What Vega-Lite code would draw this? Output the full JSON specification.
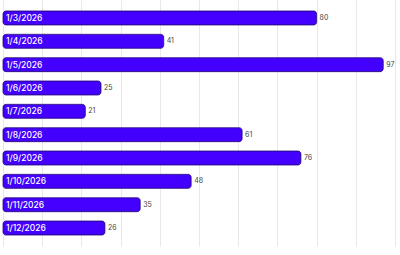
{
  "$schema": "https://vega.github.io/schema/vega-lite/v6.json",
  "width": 400,
  "height": 255,
  "autosize": {"type": "fit", "contains": "padding"},
  "padding": {"left": 2, "right": 5, "top": 0, "bottom": 9},
  "background": "white",
  "config": {"view": {"stroke": null}, "font": "Inter"},
  "data": {"values": [
    {"date": "1/3/2026", "value": 80},
    {"date": "1/4/2026", "value": 41},
    {"date": "1/5/2026", "value": 97},
    {"date": "1/6/2026", "value": 25},
    {"date": "1/7/2026", "value": 21},
    {"date": "1/8/2026", "value": 61},
    {"date": "1/9/2026", "value": 76},
    {"date": "1/10/2026", "value": 48},
    {"date": "1/11/2026", "value": 35},
    {"date": "1/12/2026", "value": 26}
  ]},
  "encoding": {
    "y": {"field": "date", "type": "nominal", "sort": null, "axis": null,
          "scale": {"paddingInner": 0.4, "paddingOuter": 0.47}},
    "x": {"field": "value", "type": "quantitative",
          "scale": {"domain": [0, 100], "nice": false},
          "axis": {"title": null, "labels": false, "ticks": false, "domain": false,
                   "grid": true, "gridColor": "#e8e8e8", "gridWidth": 1, "values": [0,10,20,30,40,50,60,70,80,90,100]}}
  },
  "layer": [
    {"mark": {"type": "bar", "color": "#4400ff", "stroke": "#2a0a8a", "strokeWidth": 0.8, "cornerRadius": 3}},
    {"mark": {"type": "text", "align": "left", "baseline": "middle", "dx": 3, "color": "white", "fontSize": 8.5, "fontWeight": 500},
     "encoding": {"x": {"datum": 0, "type": "quantitative"}, "text": {"field": "date"}}},
    {"mark": {"type": "text", "align": "left", "baseline": "middle", "dx": 3, "color": "#444444", "fontSize": 7},
     "encoding": {"text": {"field": "value"}}}
  ]
}
